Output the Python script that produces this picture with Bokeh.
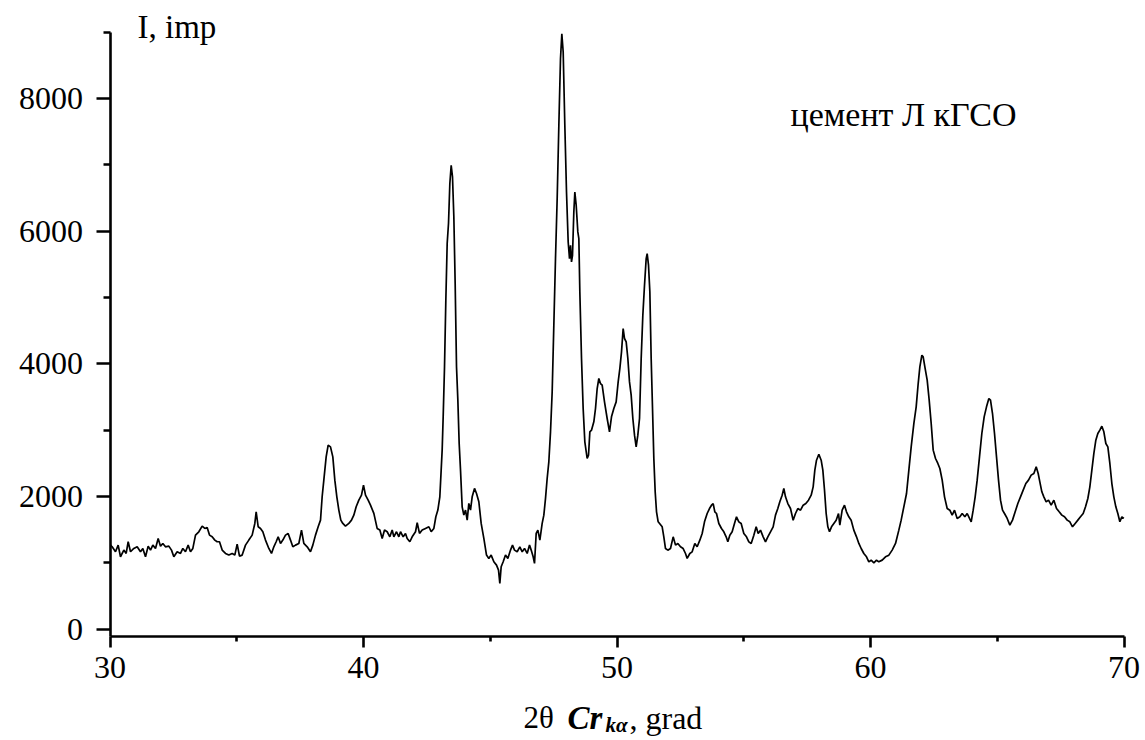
from bokeh.plotting import figure
from bokeh.models import Range1d, FixedTicker, Label
from bokeh.embed import file_html
from bokeh.resources import INLINE

# ---- data (2theta in degrees, intensity in imp) ----
two_theta = [
    30.02, 30.085, 30.217, 30.322, 30.414, 30.546, 30.638, 30.717, 30.809, 30.940,
    31.072, 31.203, 31.295, 31.400, 31.506, 31.598, 31.690, 31.795, 31.900, 31.992,
    32.084, 32.189, 32.321, 32.426, 32.518, 32.650, 32.781, 32.873, 32.978, 33.083,
    33.175, 33.268, 33.373, 33.504, 33.636, 33.741, 33.833, 33.925, 34.030, 34.135,
    34.227, 34.319, 34.425, 34.556, 34.688, 34.819, 34.924, 35.016, 35.108, 35.214,
    35.345, 35.476, 35.608, 35.713, 35.766, 35.845, 35.937, 36.029, 36.134, 36.266,
    36.371, 36.463, 36.555, 36.634, 36.726, 36.818, 36.923, 37.028, 37.120, 37.212,
    37.318, 37.449, 37.554, 37.646, 37.778, 37.909, 38.001, 38.106, 38.212, 38.304,
    38.369, 38.435, 38.527, 38.606, 38.698, 38.790, 38.869, 38.948, 39.027, 39.105,
    39.184, 39.289, 39.421, 39.526, 39.618, 39.711, 39.816, 39.921, 40.000, 40.079,
    40.184, 40.276,
    40.408, 40.539, 40.645, 40.737, 40.829, 40.934, 41.039, 41.131, 41.197, 41.302,
    41.394, 41.460, 41.565, 41.657, 41.723, 41.828, 41.920, 42.052, 42.118, 42.209,
    42.315, 42.446, 42.578, 42.670, 42.775, 42.854, 42.933, 43.011, 43.064, 43.103,
    43.143, 43.196, 43.248, 43.301, 43.353, 43.406, 43.459, 43.511, 43.564, 43.616,
    43.669, 43.722, 43.774, 43.827, 43.892, 43.958, 44.024, 44.090, 44.155, 44.221,
    44.287, 44.379, 44.458, 44.550, 44.642, 44.747, 44.852, 44.944, 45.036, 45.142,
    45.247, 45.326, 45.378, 45.431, 45.510, 45.602, 45.694, 45.799, 45.878, 45.957,
    46.062, 46.167, 46.260, 46.352, 46.457, 46.549, 46.615, 46.693, 46.746, 46.812,
    46.878, 46.957,
    47.048, 47.114, 47.180, 47.245, 47.311, 47.377, 47.443, 47.508, 47.574, 47.640,
    47.706, 47.771, 47.824, 47.877, 47.942, 48.008, 48.074, 48.126, 48.166, 48.205,
    48.245, 48.297, 48.337, 48.390, 48.455, 48.495, 48.534, 48.600, 48.665, 48.731,
    48.823, 48.876, 48.929, 48.994, 49.086, 49.152, 49.218, 49.283, 49.349, 49.415,
    49.507, 49.612, 49.704, 49.783, 49.875, 49.967, 50.046, 50.112, 50.178, 50.243,
    50.296, 50.362, 50.428, 50.493, 50.559, 50.625, 50.691, 50.756, 50.822, 50.888,
    50.954, 51.019, 51.085, 51.151, 51.190, 51.243, 51.296, 51.348, 51.401, 51.453,
    51.506, 51.559, 51.624,
    51.782, 51.847, 51.913, 52.005, 52.110, 52.216, 52.308, 52.400, 52.505, 52.610,
    52.702, 52.768, 52.873, 52.965, 53.070, 53.162, 53.268, 53.360, 53.452, 53.557,
    53.649, 53.728, 53.794, 53.859, 53.925, 54.017, 54.122, 54.214, 54.306, 54.372,
    54.451, 54.543, 54.635, 54.714, 54.806, 54.898, 55.003, 55.108, 55.201, 55.293,
    55.398, 55.490, 55.569, 55.661, 55.766, 55.858, 55.950, 56.055, 56.160, 56.252,
    56.344, 56.423, 56.515, 56.581, 56.647, 56.739, 56.844, 56.949, 57.041, 57.133,
    57.239, 57.344, 57.449, 57.554, 57.660, 57.738, 57.804, 57.870, 57.962, 58.054,
    58.120, 58.186, 58.251, 58.317, 58.383, 58.462, 58.554, 58.646, 58.738, 58.790,
    58.882, 58.974, 59.053, 59.145, 59.237, 59.342, 59.448, 59.540, 59.632, 59.737,
    59.842, 59.934, 60.026, 60.132, 60.237, 60.329,
    60.461, 60.592, 60.724, 60.855, 60.987, 61.118, 61.210, 61.315, 61.421, 61.513,
    61.605, 61.710, 61.802, 61.881, 61.947, 62.026, 62.078, 62.144, 62.236, 62.315,
    62.394, 62.473, 62.565, 62.657, 62.736, 62.828, 62.920, 63.025, 63.130, 63.222,
    63.314, 63.419, 63.525, 63.617, 63.722, 63.814, 63.906, 63.972, 64.050, 64.129,
    64.208, 64.300, 64.392, 64.484, 64.576, 64.669, 64.734, 64.813, 64.892, 64.971,
    65.050, 65.129, 65.208, 65.286, 65.392, 65.497, 65.602, 65.707, 65.812, 65.917,
    66.023, 66.128, 66.233, 66.338, 66.444, 66.536, 66.615, 66.680, 66.759, 66.838,
    66.930, 67.022, 67.127, 67.233, 67.338, 67.443, 67.548, 67.653, 67.759, 67.864,
    67.969, 68.074, 68.179, 68.284, 68.390, 68.482, 68.574, 68.653, 68.732, 68.810,
    68.889, 68.968, 69.047, 69.126, 69.205, 69.284, 69.363, 69.442, 69.521, 69.599,
    69.678, 69.757, 69.836, 69.915, 69.994,
]

intensity = [
    1266, 1241, 1166, 1266, 1091, 1191, 1141, 1317, 1166, 1216,
    1241, 1166, 1216, 1091, 1251, 1191, 1266, 1216, 1367, 1251,
    1291, 1241, 1251, 1191, 1091, 1166, 1141, 1216, 1166, 1266,
    1166, 1216, 1417, 1467, 1553, 1517, 1533, 1417, 1392, 1342,
    1317, 1317, 1191, 1141, 1116, 1141, 1116, 1281, 1101, 1116,
    1266, 1342, 1417, 1593, 1769, 1543, 1517, 1467, 1342, 1216,
    1141, 1241, 1317, 1392, 1291, 1342, 1417, 1442, 1342, 1241,
    1266, 1291, 1492, 1291, 1241, 1166, 1266, 1417, 1543, 1643,
    1995, 2246, 2597, 2773, 2748, 2597, 2246, 1995, 1794, 1643,
    1593, 1553, 1593, 1643, 1718, 1844, 1945, 2020, 2171, 2020,
    1945, 1869,
    1744, 1518, 1493, 1367, 1493, 1468, 1392, 1493, 1392, 1468,
    1392, 1468, 1392, 1443, 1367, 1317, 1392, 1468, 1603, 1443,
    1493, 1518, 1543, 1468, 1518, 1694, 1794, 1995, 2397, 2698,
    3201, 3954, 4959, 5813, 6114, 6717, 6993, 6817, 6214, 5210,
    3954, 3452, 2799, 2397, 1844, 1719, 1794, 1643, 1895, 1794,
    1995, 2121, 2045, 1920, 1593, 1367, 1116, 1066, 1116, 1016,
    965, 890, 689, 940, 1016, 1116, 1066, 1191, 1267, 1191,
    1166, 1241, 1166, 1216, 1141, 1267, 1191, 1091, 990, 1443,
    1493, 1342,
    1593, 1718, 1970, 2271, 2522, 2974, 3577, 4581, 5586, 6490,
    7595, 8600, 8976, 8700, 7595, 6590, 5837, 5586, 5787, 5536,
    5636, 6289, 6590, 6390, 5988, 5887, 5084, 4079, 3326, 2823,
    2572, 2622, 2974, 2999, 3125, 3326, 3627, 3778, 3702, 3677,
    3426, 3175, 2974, 3200, 3326, 3426, 3727, 3928, 4179, 4531,
    4381, 4330, 4079, 3727, 3527, 3175, 2924, 2748, 2924, 3175,
    4079, 4732, 5184, 5586, 5661, 5486, 5084, 4079, 3326, 2572,
    2070, 1769, 1618,
    1542, 1391, 1215, 1190, 1215, 1391, 1266, 1291, 1241, 1215,
    1140, 1065, 1140, 1165, 1291, 1241, 1341, 1441, 1617, 1743,
    1818, 1868, 1893, 1768, 1743, 1592, 1517, 1467, 1391, 1316,
    1416, 1467, 1592, 1693, 1617, 1592, 1441, 1391, 1316, 1291,
    1416, 1542, 1441, 1492, 1391, 1316, 1391, 1467, 1542, 1718,
    1818, 1919, 2019, 2120, 1994, 1893, 1818, 1642, 1743, 1818,
    1793, 1868, 1893, 1944, 2019, 2145, 2396, 2546, 2637, 2546,
    2396, 2094, 1743, 1542, 1467, 1542, 1592, 1642, 1743, 1567,
    1793, 1868, 1768, 1693, 1642, 1492, 1391, 1291, 1215, 1140,
    1090, 1014, 1039, 999, 1039, 1014,
    1040, 1090, 1115, 1191, 1291, 1492, 1643, 1844, 2045, 2396,
    2748, 3099, 3351, 3702, 3953, 4129, 4104, 3953, 3753, 3451,
    3099, 2698, 2572, 2497, 2421, 2246, 1994, 1819, 1793, 1718,
    1793, 1668, 1693, 1743, 1693, 1743, 1668, 1618, 1793, 1994,
    2246, 2597, 2949, 3200, 3351, 3476, 3451, 3250, 2949, 2597,
    2246, 1944, 1793, 1743, 1668, 1568, 1643, 1768, 1894, 1994,
    2095, 2195, 2246, 2321, 2346, 2446, 2346, 2220, 2070, 1994,
    1919, 1944, 1869, 1944, 1819, 1768, 1718, 1693, 1643, 1618,
    1542, 1593, 1643, 1693, 1743, 1844, 1969, 2145, 2396, 2647,
    2848, 2949, 2999, 3059, 2974, 2798, 2748, 2497, 2195, 1994,
    1844, 1743, 1618, 1693, 1668,
]

x_major_ticks = [30, 40, 50, 60, 70]
x_minor_ticks = [35, 45, 55, 65]
y_major_ticks = [0, 2000, 4000, 6000, 8000]
y_minor_ticks = [1000, 3000, 5000, 7000, 9000]

sample_label = "цемент Л кГСО"
y_title = "I, imp"

X_AXIS_LO, X_AXIS_HI = 30, 70        # extent of the drawn x axis
Y_AXIS_LO, Y_AXIS_HI = -105, 9000    # extent of the drawn y axis

W, H = 1145, 740
# screen geometry of the reference axes
X_PX_PER_UNIT = 25.35
X_AXIS_LEFT_PX = 109.5
Y_UNITS_PER_PX = 15.075
Y_AXIS_TOP_PX = 31.6

X0 = X_AXIS_LO - X_AXIS_LEFT_PX / X_PX_PER_UNIT
X1 = X0 + W / X_PX_PER_UNIT
Y1 = Y_AXIS_HI + Y_AXIS_TOP_PX * Y_UNITS_PER_PX
Y0 = Y1 - H * Y_UNITS_PER_PX

p = figure(width=W, height=H, x_range=Range1d(X0, X1), y_range=Range1d(Y0, Y1),
           output_backend="svg", toolbar_location=None,
           min_border_left=0, min_border_right=0, min_border_top=0, min_border_bottom=0)
p.outline_line_color = None
p.xgrid.visible = False
p.ygrid.visible = False
p.background_fill_color = "white"
p.border_fill_color = "white"

p.line(two_theta, intensity, line_color="black", line_width=1.7)

SERIF = "Liberation Serif"

for ax in (p.xaxis[0], p.yaxis[0]):
    ax.axis_line_width = 2.6
    ax.axis_line_color = "black"
    ax.major_tick_line_width = 2.6
    ax.minor_tick_line_width = 2.6
    ax.major_tick_line_color = "black"
    ax.minor_tick_line_color = "black"
    ax.major_tick_in = 0
    ax.minor_tick_in = 0
    ax.major_label_text_font = SERIF
    ax.major_label_text_font_size = "32px"
    ax.major_label_text_color = "black"
    ax.major_label_text_font_style = "normal"

p.xaxis.ticker = FixedTicker(ticks=x_major_ticks, minor_ticks=x_minor_ticks)
p.yaxis.ticker = FixedTicker(ticks=y_major_ticks, minor_ticks=y_minor_ticks)
p.xaxis.fixed_location = Y_AXIS_LO
p.yaxis.fixed_location = X_AXIS_LO
p.xaxis.bounds = (X_AXIS_LO, X_AXIS_HI)
p.yaxis.bounds = (Y_AXIS_LO, Y_AXIS_HI)
p.xaxis.major_tick_out = 11
p.xaxis.minor_tick_out = 5
p.xaxis.major_label_standoff = 10
p.yaxis.major_tick_out = 14
p.yaxis.minor_tick_out = 7
p.yaxis.major_label_standoff = 13

# helpers to place texts at screen-pixel spots, via data coordinates
def dx(px):
    return X0 + px / X_PX_PER_UNIT
def dy(py):
    return Y1 - py * Y_UNITS_PER_PX

BASE_SHIFT = 11  # rendered baseline sits lower than requested

def add_text(txt, px, py, size, style="normal"):
    p.add_layout(Label(x=dx(px), y=dy(py - BASE_SHIFT), text=txt, text_font=SERIF,
                       text_font_size=size, text_font_style=style,
                       text_color="black", text_align="left",
                       text_baseline="alphabetic"))

add_text(y_title, 137, 37, "33px")
add_text(sample_label, 790, 125, "34px")

# x axis title: "2θ Crkα, grad" with bold-italic Cr and subscript kα
add_text("2θ", 523, 728, "31px")
add_text("Cr", 567, 728, "33px", "bold italic")
add_text("kα", 605, 735, "21px", "bold italic")
add_text(", grad", 629, 728, "32px")

open("out.html", "w").write(file_html(p, INLINE))
